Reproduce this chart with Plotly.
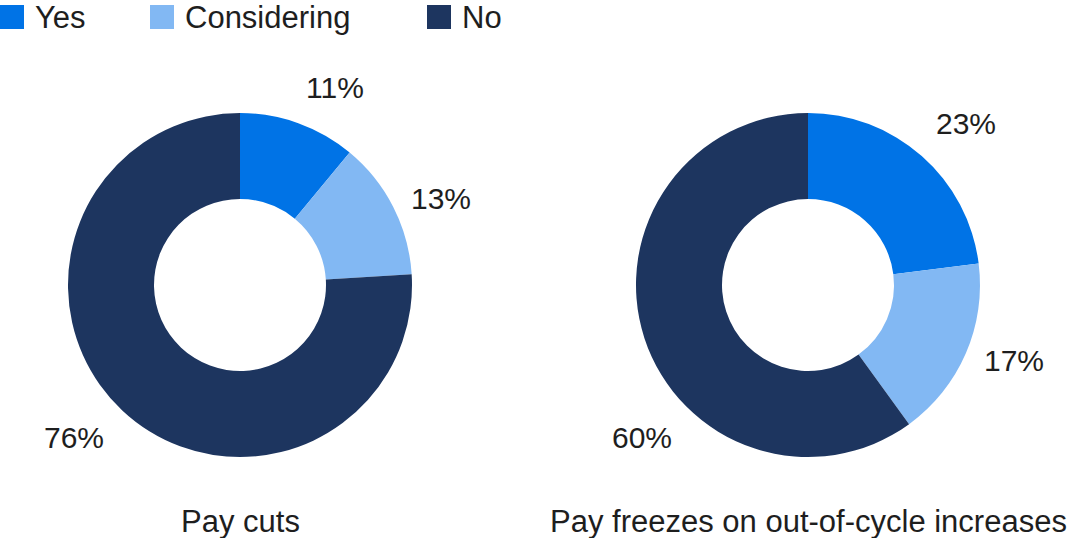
import math
import plotly.graph_objects as go

categories = ["Yes", "Considering", "No"]
pay_cuts = [11, 13, 76]
pay_freezes = [23, 17, 60]
titles = ["Pay cuts", "Pay freezes on out-of-cycle increases"]
colors = ["#0073E6", "#82B8F3", "#1D355F"]

W, H = 1072, 538
FONT = "Liberation Sans, Arial, sans-serif"
TXT = "#1e1e1e"
CY, R = 285, 172
LABEL_R = 190
LEGEND_X = [0, 150, 427]   # left edge of each legend swatch (px)
SW = 24                    # swatch size (px)
LEG_Y = 17                 # legend row centre (px from top)

def px_x(x):
    return x / W

def px_y(y):
    return 1 - y / H

fig = go.Figure()

def dom(cx, cy, r):
    return dict(x=[(cx - r) / W, (cx + r) / W], y=[1 - (cy + r) / H, 1 - (cy - r) / H])

for i, (vals, cx) in enumerate([(pay_cuts, 240), (pay_freezes, 808)]):
    fig.add_trace(go.Pie(
        labels=categories, values=vals, hole=0.5, sort=False,
        direction="clockwise", rotation=0,
        marker=dict(colors=colors, line=dict(width=0)),
        textinfo="none",
        domain=dom(cx, CY, R),
        showlegend=False, hoverinfo="label+percent",
    ))
    total = sum(vals)
    cum = 0
    biggest = vals.index(max(vals))
    for j, v in enumerate(vals):
        mid = (cum + v / 2) / total * 360
        cum += v
        if j == biggest:
            mid = 225  # large slice label sits at lower-left
        a = math.radians(mid)
        s, c = math.sin(a), math.cos(a)
        lx = cx + LABEL_R * s
        ly = CY - LABEL_R * c
        xa = "left" if s > 0.1 else ("right" if s < -0.1 else "center")
        ya = "bottom" if c > 0.5 else ("top" if c < -0.5 else "middle")
        fig.add_annotation(text=f"{v}%", x=px_x(lx), y=px_y(ly), xref="paper", yref="paper",
                           showarrow=False, xanchor=xa, yanchor=ya,
                           font=dict(size=30, color=TXT, family=FONT))
    fig.add_annotation(text=titles[i], x=px_x(cx), y=px_y(521), xref="paper", yref="paper",
                       showarrow=False, xanchor="center", yanchor="middle",
                       font=dict(size=31, color=TXT, family=FONT))

# legend (swatches + labels)
for cat, col, lx in zip(categories, colors, LEGEND_X):
    fig.add_shape(type="rect", xref="paper", yref="paper",
                  x0=px_x(lx), x1=px_x(lx + SW),
                  y0=px_y(LEG_Y + SW / 2), y1=px_y(LEG_Y - SW / 2),
                  fillcolor=col, line=dict(width=0))
    fig.add_annotation(text=cat, x=px_x(lx + SW + 9), y=px_y(LEG_Y), xref="paper", yref="paper",
                       showarrow=False, xanchor="left", yanchor="middle",
                       font=dict(size=31, color=TXT, family=FONT))

fig.update_layout(
    width=W, height=H, margin=dict(l=0, r=0, t=0, b=0),
    paper_bgcolor="white", plot_bgcolor="white",
    font=dict(family=FONT, color=TXT),
    showlegend=False,
)

fig.write_html("out.html", config={"displayModeBar": False},
               post_script="document.body.style.margin='0';")
